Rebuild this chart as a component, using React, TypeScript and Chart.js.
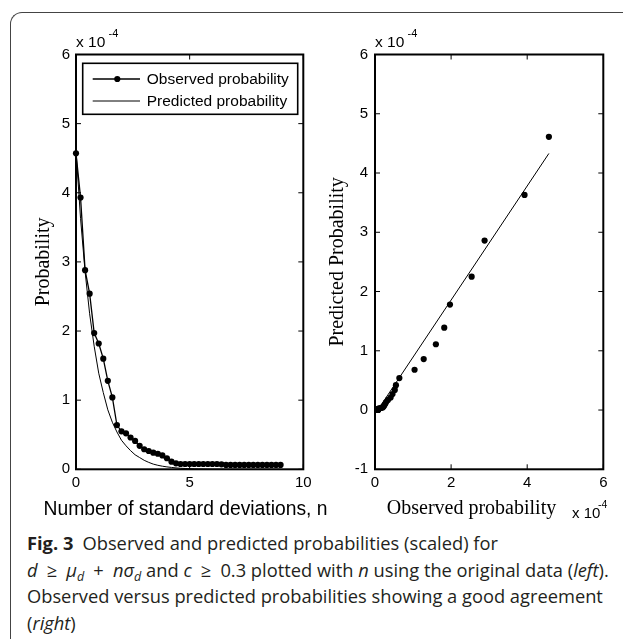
import React, { useEffect, useRef } from "react";
import { Chart, registerables } from "chart.js";

Chart.register(...registerables);

// ---------- data ----------
const nValues = [
  0, 0.2, 0.4, 0.6, 0.8, 1, 1.2, 1.4, 1.6, 1.8,
  2, 2.2, 2.4, 2.6, 2.8, 3, 3.2, 3.4, 3.6, 3.8,
  4, 4.2, 4.4, 4.6, 4.8, 5, 5.2, 5.4, 5.6, 5.8,
  6, 6.2, 6.4, 6.6, 6.8, 7, 7.2, 7.4, 7.6, 7.8,
  8, 8.2, 8.4, 8.6, 8.8, 9,
];
// probabilities in units of 1e-4
const observedProb = [
  4.57, 3.93, 2.88, 2.54, 1.97, 1.82, 1.6, 1.28, 1.04, 0.64,
  0.55, 0.52, 0.46, 0.41, 0.34, 0.29, 0.265, 0.24, 0.225, 0.2,
  0.16, 0.11, 0.087, 0.077, 0.077, 0.077, 0.077, 0.077, 0.077, 0.077,
  0.077, 0.077, 0.072, 0.063, 0.063, 0.063, 0.063, 0.063, 0.063, 0.063,
  0.063, 0.063, 0.063, 0.063, 0.063, 0.063,
];
const predictedProb = [
  4.61, 3.63, 2.86, 2.25, 1.78, 1.39, 1.11, 0.86, 0.68, 0.54,
  0.42, 0.34, 0.27, 0.21, 0.17, 0.13, 0.1, 0.075, 0.058, 0.045,
  0.035, 0.027, 0.02, 0.015, 0.012, 0.009, 0.007, 0.005, 0.004, 0.003,
  0.002, 0.002, 0.002, 0.001, 0.001, 0.001, 0.001, 0.001, 0.001, 0.001,
  0.001, 0.001, 0.001, 0.001, 0.001, 0.001,
];
// fitted line on the right panel
const fitLineObserved = [0.062, 4.57];
const fitLinePredicted = [-0.01, 4.33];

const seriesLabels = ["Observed probability", "Predicted probability"];
const leftXTicks = [0, 5, 10];
const leftYTicks = [0, 1, 2, 3, 4, 5, 6];
const rightXTicks = [0, 2, 4, 6];
const rightYTicks = [-1, 0, 1, 2, 3, 4, 5, 6];

const leftXTitle = "Number of standard deviations, n";
const leftYTitle = "Probability";
const rightXTitle = "Observed probability";
const rightYTitle = "Predicted Probability";
const exponentBase = "x 10";
const exponentPower = "-4";

const SANS = "'Liberation Sans', Arial, sans-serif";
const SERIF = "'Liberation Serif', 'Times New Roman', serif";

// ---------- plugins ----------
const boxPlugin = {
  id: "matlabBox",
  afterDatasetsDraw(chart: any) {
    const { ctx, chartArea: a, scales } = chart;
    const tl = 5;
    ctx.save();
    ctx.strokeStyle = "#000";
    ctx.lineWidth = 1;
    ctx.beginPath();
    scales.x.ticks.forEach((t: any) => {
      const px = scales.x.getPixelForValue(t.value);
      ctx.moveTo(px, a.bottom);
      ctx.lineTo(px, a.bottom - tl);
      ctx.moveTo(px, a.top);
      ctx.lineTo(px, a.top + tl);
    });
    scales.y.ticks.forEach((t: any) => {
      const py = scales.y.getPixelForValue(t.value);
      ctx.moveTo(a.left, py);
      ctx.lineTo(a.left + tl, py);
      ctx.moveTo(a.right, py);
      ctx.lineTo(a.right - tl, py);
    });
    ctx.stroke();
    ctx.lineWidth = 2;
    ctx.strokeRect(a.left, a.top, a.right - a.left, a.bottom - a.top);
    ctx.restore();
  },
};

const topExponentPlugin = {
  id: "topExponent",
  afterDraw(chart: any) {
    const { ctx, chartArea: a } = chart;
    ctx.save();
    ctx.fillStyle = "#000";
    ctx.textBaseline = "middle";
    ctx.textAlign = "left";
    ctx.font = `15.5px ${SANS}`;
    ctx.fillText(exponentBase, a.left, a.top - 11.5);
    ctx.font = `11px ${SANS}`;
    ctx.fillText(exponentPower, a.left + 32.5, a.top - 21);
    ctx.restore();
  },
};

const legendPlugin = {
  id: "boxLegend",
  afterDraw(chart: any) {
    const { ctx, chartArea: a } = chart;
    const bx = a.left + 6.7;
    const by = a.top + 8.8;
    const bw = 215;
    const bh = 51;
    ctx.save();
    ctx.fillStyle = "#fff";
    ctx.fillRect(bx, by, bw, bh);
    ctx.strokeStyle = "#000";
    ctx.lineWidth = 1.6;
    ctx.strokeRect(bx, by, bw, bh);
    chart.data.datasets.forEach((ds: any, i: number) => {
      const y = by + 15.7 + i * 22;
      ctx.strokeStyle = "#000";
      ctx.lineWidth = ds.borderWidth;
      ctx.beginPath();
      ctx.moveTo(bx + 10, y);
      ctx.lineTo(bx + 57.3, y);
      ctx.stroke();
      if (ds.pointRadius > 0) {
        ctx.fillStyle = "#000";
        ctx.beginPath();
        ctx.arc(bx + 34.6, y, ds.pointRadius, 0, Math.PI * 2);
        ctx.fill();
      }
      ctx.fillStyle = "#000";
      ctx.font = `15.5px ${SANS}`;
      ctx.textBaseline = "middle";
      ctx.textAlign = "left";
      ctx.fillText(ds.label, bx + 64, y + 0.5);
    });
    ctx.restore();
  },
};

const leftBottomTextPlugin = {
  id: "leftBottomText",
  afterDraw(chart: any) {
    const { ctx, chartArea: a } = chart;
    ctx.save();
    ctx.fillStyle = "#000";
    ctx.textBaseline = "middle";
    ctx.textAlign = "center";
    ctx.font = `19.3px ${SANS}`;
    ctx.fillText(leftXTitle, a.left + 109.5, a.bottom + 40);
    ctx.restore();
  },
};

const rightBottomTextPlugin = {
  id: "rightBottomText",
  afterDraw(chart: any) {
    const { ctx, chartArea: a } = chart;
    ctx.save();
    ctx.fillStyle = "#000";
    ctx.textBaseline = "middle";
    ctx.textAlign = "center";
    ctx.font = `20px ${SERIF}`;
    ctx.fillText(rightXTitle, a.left + 96.5, a.bottom + 39.5);
    ctx.textAlign = "left";
    ctx.font = `15px ${SANS}`;
    ctx.fillText(exponentBase, a.left + 197, a.bottom + 44.5);
    ctx.font = `10.5px ${SANS}`;
    ctx.fillText(exponentPower, a.left + 223, a.bottom + 35.5);
    ctx.restore();
  },
};

const tickFont = { family: SANS, size: 15 };

function fixedTicks(values: number[]) {
  return (s: any) => {
    s.ticks = values.map((v) => ({ value: v }));
  };
}

// ---------- charts ----------
function LeftChart() {
  const ref = useRef<HTMLCanvasElement | null>(null);
  useEffect(() => {
    if (!ref.current) return;
    const chart = new Chart(ref.current, {
      type: "line",
      data: {
        datasets: [
          {
            label: seriesLabels[0],
            data: nValues.map((n, i) => ({ x: n, y: observedProb[i] })),
            borderColor: "#000",
            backgroundColor: "#000",
            borderWidth: 1.3,
            pointRadius: 3.1,
            pointBorderWidth: 0,
            pointBackgroundColor: "#000",
            tension: 0,
            clip: false,
          } as any,
          {
            label: seriesLabels[1],
            data: nValues.map((n, i) => ({ x: n, y: predictedProb[i] })),
            borderColor: "#000",
            borderWidth: 1,
            pointRadius: 0,
            tension: 0,
            clip: false,
          } as any,
        ],
      },
      options: {
        animation: false,
        responsive: false,
        devicePixelRatio: 1,
        layout: { padding: { left: 0, top: 34.5, right: 38.7, bottom: 0 } },
        plugins: { legend: { display: false }, tooltip: { enabled: false } },
        scales: {
          x: {
            type: "linear",
            min: 0,
            max: 10,
            grid: { display: false, drawTicks: false },
            border: { display: false },
            afterBuildTicks: fixedTicks(leftXTicks),
            afterFit: (s: any) => {
              s.height = 50.7;
            },
            ticks: {
              padding: 5,
              color: "#000",
              font: tickFont,
              maxRotation: 0,
              autoSkip: false,
              callback: (v: any) => String(v),
            },
          },
          y: {
            type: "linear",
            min: 0,
            max: 6,
            grid: { display: false, drawTicks: false },
            border: { display: false },
            afterBuildTicks: fixedTicks(leftYTicks),
            afterFit: (s: any) => {
              s.width = 64;
            },
            ticks: {
              padding: 6,
              color: "#000",
              font: tickFont,
              autoSkip: false,
              callback: (v: any) => String(v),
            },
            title: {
              display: true,
              text: leftYTitle,
              color: "#000",
              font: { family: SERIF, size: 20, lineHeight: 1.2 },
              padding: { top: 20, bottom: 0 },
            },
          },
        },
      } as any,
      plugins: [boxPlugin, topExponentPlugin, legendPlugin, leftBottomTextPlugin],
    });
    return () => chart.destroy();
  }, []);
  return (
    <canvas
      ref={ref}
      width={330}
      height={500}
      style={{ position: "absolute", left: 12, top: 20, width: 330, height: 500 }}
    />
  );
}

function RightChart() {
  const ref = useRef<HTMLCanvasElement | null>(null);
  useEffect(() => {
    if (!ref.current) return;
    const chart = new Chart(ref.current, {
      type: "scatter",
      data: {
        datasets: [
          {
            label: "Observed vs predicted",
            data: observedProb.map((o, i) => ({ x: o, y: predictedProb[i] })),
            backgroundColor: "#000",
            borderColor: "#000",
            pointRadius: 3.1,
            pointBorderWidth: 0,
            showLine: false,
            clip: false,
          } as any,
          {
            label: "Fit",
            data: fitLineObserved.map((o, i) => ({ x: o, y: fitLinePredicted[i] })),
            borderColor: "#000",
            borderWidth: 1,
            pointRadius: 0,
            showLine: true,
            clip: false,
          } as any,
        ],
      },
      options: {
        animation: false,
        responsive: false,
        devicePixelRatio: 1,
        layout: { padding: { left: 0, top: 34.5, right: 19.7, bottom: 0 } },
        plugins: { legend: { display: false }, tooltip: { enabled: false } },
        scales: {
          x: {
            type: "linear",
            min: 0,
            max: 6,
            grid: { display: false, drawTicks: false },
            border: { display: false },
            afterBuildTicks: fixedTicks(rightXTicks),
            afterFit: (s: any) => {
              s.height = 50.7;
            },
            ticks: {
              padding: 5,
              color: "#000",
              font: tickFont,
              maxRotation: 0,
              autoSkip: false,
              callback: (v: any) => String(v),
            },
          },
          y: {
            type: "linear",
            min: -1,
            max: 6,
            grid: { display: false, drawTicks: false },
            border: { display: false },
            afterBuildTicks: fixedTicks(rightYTicks),
            afterFit: (s: any) => {
              s.width = 55;
            },
            ticks: {
              padding: 7,
              color: "#000",
              font: tickFont,
              autoSkip: false,
              callback: (v: any) => String(v),
            },
            title: {
              display: true,
              text: rightYTitle,
              color: "#000",
              font: { family: SERIF, size: 20, lineHeight: 1.2 },
              padding: { top: 6, bottom: 0 },
            },
          },
        },
      } as any,
      plugins: [boxPlugin, topExponentPlugin, rightBottomTextPlugin],
    });
    return () => chart.destroy();
  }, []);
  return (
    <canvas
      ref={ref}
      width={303}
      height={500}
      style={{ position: "absolute", left: 320, top: 20, width: 303, height: 500 }}
    />
  );
}

const subStyle: React.CSSProperties = {
  fontSize: 12.5,
  verticalAlign: "-4px",
  lineHeight: 0,
};

const SP = "\u2002";

export default function App() {
  return (
    <div
      style={{
        position: "absolute",
        left: 0,
        top: 0,
        width: 623,
        height: 639,
        overflow: "hidden",
        background: "#fff",
      }}
    >
      <div
        style={{
          position: "absolute",
          left: 10,
          top: 12,
          width: 700,
          height: 700,
          borderLeft: "1.5px solid #444",
          borderTop: "1.5px solid #444",
          borderTopLeftRadius: 12,
          boxSizing: "border-box",
        }}
      />
      <LeftChart />
      <RightChart />
      <div
        style={{
          position: "absolute",
          left: 27,
          top: 530,
          fontFamily: "'Open Sans', 'Noto Sans', sans-serif",
          fontSize: 18.3,
          lineHeight: "26.5px",
          color: "#231f20",
          whiteSpace: "nowrap",
        }}
      >
        <span style={{ fontWeight: 700 }}>Fig. 3</span>
        {"\u2002"}Observed and predicted probabilities (scaled) for
        <br />
        <i>d</i>
        {SP}≥{SP}
        <i>μ</i>
        <sub style={subStyle}>
          <i>d</i>
        </sub>
        {SP}+{SP}
        <i>nσ</i>
        <sub style={subStyle}>
          <i>d</i>
        </sub>{" "}
        and <i>c</i>
        {SP}≥{SP}0.3 plotted with <i>n</i> using the original data (<i>left</i>).
        <br />
        Observed versus predicted probabilities showing a good agreement
        <br />(<i>right</i>)
      </div>
    </div>
  );
}
